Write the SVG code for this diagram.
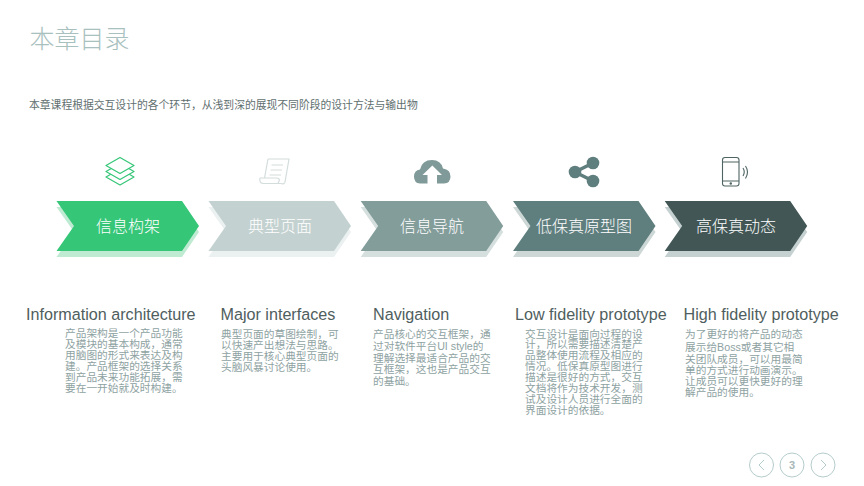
<svg xmlns="http://www.w3.org/2000/svg" width="864" height="486" viewBox="0 0 864 486">
<style>
text{font-family:"Liberation Sans","Noto Sans CJK SC",sans-serif}
.cn{font-family:"Noto Sans CJK SC",sans-serif}
.title{font-size:25px;font-weight:300;fill:#a8c0be}
.sub{font-size:10.8px;fill:#5f6f6f}
.lab{font-size:16px;fill:#fff;text-anchor:middle;font-weight:300}
.h{font-size:16.15px;fill:#4f5e5e}
.b{font-size:10.7px;fill:#8ea2a2}
.nav{fill:#fff;stroke:#b4cccb;stroke-width:1}
.ln{fill:none;stroke:#b4cccb;stroke-width:1}
</style>
<defs>
<path id="chev" d="M0 0H125.500L142.500 25L125.500 50H0L17.500 25Z"/>
</defs>
<rect width="864" height="486" fill="#fff"/>
<text class="title cn" x="29.500" y="48">本章目录</text>
<text class="sub cn" x="29" y="108.500">本章课程根据交互设计的各个环节&#xFF0C;从浅到深的展现不同阶段的设计方法与输出物</text>

<g id="node-1">
<use href="#chev" x="56.500" y="207" fill="#c0ebd3"/>
<use href="#chev" x="56.500" y="201" fill="#35c678"/>
<text class="lab cn" x="128" y="232">信息构架</text>
<g fill="#fff" stroke="#35c678" stroke-width="1.200" stroke-linejoin="round">
<path d="M106 177L120 185L134 177L120 169Z"/>
<path d="M106 171.500L120 179.500L134 171.500L120 163.500Z"/>
<path d="M106 165.500L120 173.500L134 165.500L120 157.500Z"/>
</g>
<text class="h" x="26" y="319.500">Information architecture</text>
<text class="b cn" x="65" y="337">产品架构是一个产品功能</text>
<text class="b cn" x="65" y="348">及模块的基本构成&#xFF0C;通常</text>
<text class="b cn" x="65" y="359">用脑图的形式来表达及构</text>
<text class="b cn" x="65" y="370">建。产品框架的选择关系</text>
<text class="b cn" x="65" y="381">到产品未来功能拓展&#xFF0C;需</text>
<text class="b cn" x="65" y="392">要在一开始就及时构建。</text>
</g>

<g id="node-2">
<use href="#chev" x="208.500" y="207" fill="#ebf0f0"/>
<use href="#chev" x="208.500" y="201" fill="#c3d1d0"/>
<text class="lab cn" x="280" y="232">典型页面</text>
<path d="M268 159H289L285 182Q284.500 184.500 281 183.500L263 183.500Q259 183 260 178H277Q279 178 279.500 180L278 183M268 159L264.500 178M271.500 165H283M270.500 170H282M269.500 175H281" fill="none" stroke="#d3dddc" stroke-width="1.200" stroke-linejoin="round"/>
<text class="h" x="220.500" y="319.500">Major interfaces</text>
<text class="b cn" x="221" y="338">典型页面的草图绘制&#xFF0C;可</text>
<text class="b cn" x="221" y="349">以快速产出想法与思路。</text>
<text class="b cn" x="221" y="360">主要用于核心典型页面的</text>
<text class="b cn" x="221" y="371">头脑风暴讨论使用。</text>
</g>

<g id="node-3">
<use href="#chev" x="360.700" y="207" fill="#d5dfde"/>
<use href="#chev" x="360.700" y="201" fill="#839d9b"/>
<text class="lab cn" x="432" y="232">信息导航</text>
<path d="M420 183.500Q414 183 414 176.500Q414 170.500 420 169.500Q422 160 432 160Q441 160 443 168.500Q450.500 169.500 450.500 176.500Q450.500 183 444 183.500H437V175H442L432.300 165.500L422.500 175H427.500V183.500Z" fill="#7f9a99"/>
<text class="h" x="373" y="319.500">Navigation</text>
<text class="b cn" x="373" y="338">产品核心的交互框架&#xFF0C;通</text>
<text class="b" x="373" y="350">过对软件平台UI style的</text>
<text class="b cn" x="373" y="362">理解选择最适合产品的交</text>
<text class="b cn" x="373" y="373">互框架&#xFF0C;这也是产品交互</text>
<text class="b cn" x="373" y="385">的基础。</text>
</g>

<g id="node-4">
<use href="#chev" x="513" y="207" fill="#ccd7d6"/>
<use href="#chev" x="513" y="201" fill="#5f7e7e"/>
<text class="lab cn" x="584" y="232">低保真原型图</text>
<path d="M593 163L575 172L593 181" fill="none" stroke="#5f7e7e" stroke-width="3.500"/>
<circle cx="593" cy="163" r="6.300" fill="#5f7e7e"/>
<circle cx="575" cy="172" r="6.300" fill="#5f7e7e"/>
<circle cx="593" cy="181" r="6.300" fill="#5f7e7e"/>
<text class="h" x="515" y="319.500">Low fidelity prototype</text>
<text class="b cn" x="525" y="338">交互设计是面向过程的设</text>
<text class="b cn" x="525" y="348">计&#xFF0C;所以需要描述清楚产</text>
<text class="b cn" x="525" y="359">品整体使用流程及相应的</text>
<text class="b cn" x="525" y="370">情况。低保真原型图进行</text>
<text class="b cn" x="525" y="381">描述是很好的方式&#xFF0C;交互</text>
<text class="b cn" x="525" y="392">文档将作为技术开发&#xFF0C;测</text>
<text class="b cn" x="525" y="403">试及设计人员进行全面的</text>
<text class="b cn" x="525" y="414">界面设计的依据。</text>
</g>

<g id="node-5">
<use href="#chev" x="664.700" y="207" fill="#c5d0d0"/>
<use href="#chev" x="664.700" y="201" fill="#415655"/>
<text class="lab cn" x="736" y="232">高保真动态</text>
<g fill="none" stroke="#4e6463" stroke-width="1.100">
<rect x="722.500" y="157.500" width="16.500" height="28.500" rx="2.500"/>
<path d="M722.500 162H739M722.500 181H739M743 168Q745.500 172 743 176M745.500 166Q749.500 172 745.500 178.500"/>
</g>
<circle cx="730.800" cy="183.500" r="1.200" fill="#4e6463"/>
<text class="h" x="683.500" y="319.500">High fidelity prototype</text>
<text class="b cn" x="685" y="338">为了更好的将产品的动态</text>
<text class="b" x="685" y="351">展示给Boss或者其它相</text>
<text class="b cn" x="685" y="363">关团队成员&#xFF0C;可以用最简</text>
<text class="b cn" x="685" y="374">单的方式进行动画演示。</text>
<text class="b cn" x="685" y="385">让成员可以更快更好的理</text>
<text class="b cn" x="685" y="396">解产品的使用。</text>
</g>

<g id="pager">
<circle class="nav" cx="761.500" cy="465" r="12"/>
<circle class="nav" cx="792" cy="465" r="12"/>
<circle class="nav" cx="823" cy="465" r="12"/>
<path class="ln" d="M764 460L759 465L764 470M821 460L826 465L821 470"/>
<text x="792" y="469" font-size="11" font-weight="700" fill="#a8b8b8" text-anchor="middle">3</text>
</g>
</svg>
